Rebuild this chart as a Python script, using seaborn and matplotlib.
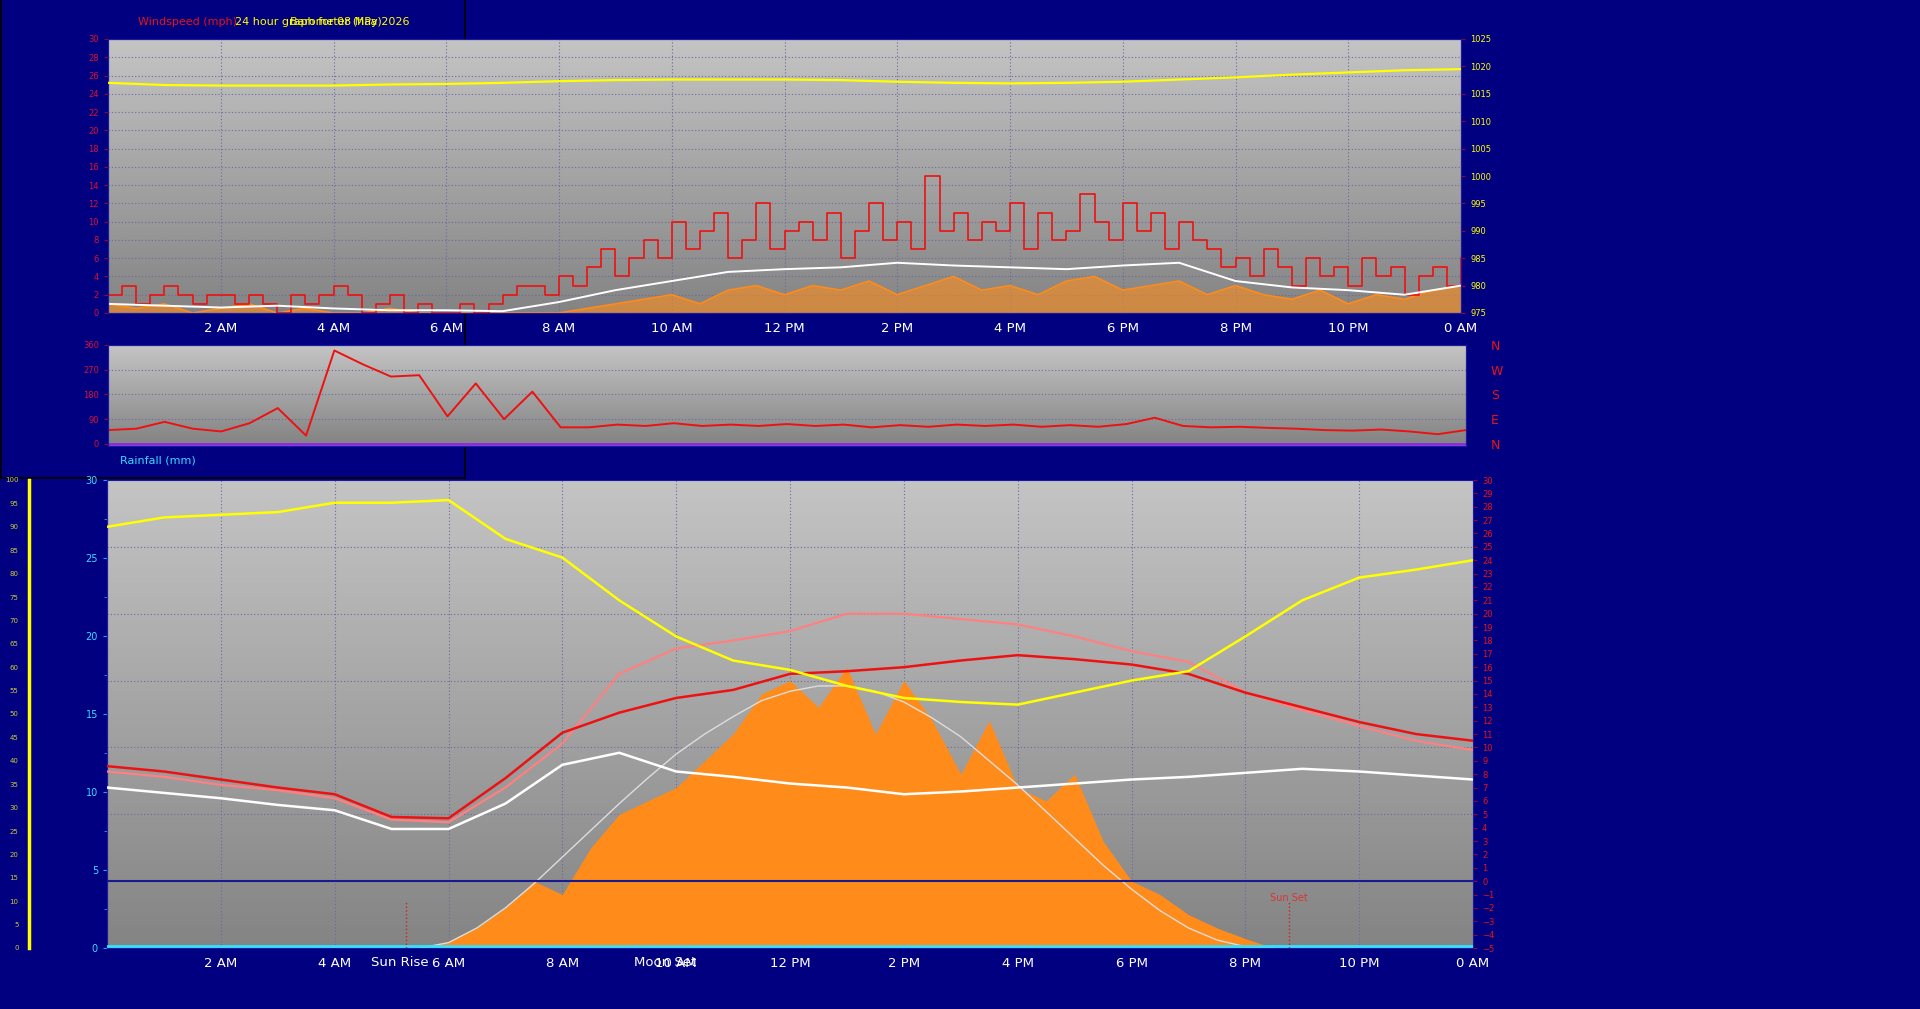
import numpy as np
import matplotlib
matplotlib.use("Agg")
import matplotlib.pyplot as plt
import seaborn as sns

sns.set_style("white")
plt.rcParams['font.family'] = ['DejaVu Sans']

# ---------------- data ----------------
hour_labels = ["2 AM", "4 AM", "6 AM", "8 AM", "10 AM", "12 PM", "2 PM", "4 PM", "6 PM", "8 PM", "10 PM", "0 AM"]
gust = [2,3,1,2,3,2,1,2,2,1,2,1,0,2,1,2,3,2,0,1,2,0,1,0,0,1,0,1,2,3,
        3,2,4,3,5,7,4,6,
        8,6,10,7,9,11,6,8,12,7,9,10,8,11,6,9,12,8,10,7,15,9,11,8,10,9,12,7,11,8,9,13,10,8,12,9,11,7,10,8,
        7,5,6,4,7,5,3,6,4,5,3,6,4,5,2,4,5,3,6]
wind_avg = [1,0.8,0.6,0.8,0.5,0.3,0.3,0.2,1.2,2.5,3.5,4.5,4.8,5,5.5,5.2,5,4.8,5.2,5.5,3.5,2.8,2.5,2,3]
wind_low = [1,0.5,1,0,0.5,1,0,0.5,0,0,0.5,0,0,0,0,0,0,0.5,1,1.5,2,1,2.5,3,2,3,2.5,3.5,2,3,4,2.5,3,2,3.5,4,2.5,3,3.5,2,3,2,1.5,2.5,1,2,1.5,2.5,3]
baro = [1017,1016.6,1016.5,1016.5,1016.5,1016.7,1016.8,1017,1017.3,1017.5,1017.6,1017.6,1017.6,1017.5,1017.2,1017,1016.9,1017,1017.2,1017.6,1018,1018.5,1018.9,1019.3,1019.5]
direction = [50,55,80,55,45,75,130,30,340,290,245,250,100,220,90,190,60,60,70,65,75,65,70,65,72,65,70,60,68,62,70,65,70,62,68,62,72,95,65,60,62,58,55,50,48,52,45,35,50]
temp = [8.6,8.2,7.6,7,6.5,4.8,4.7,7.7,11.1,12.6,13.7,14.3,15.5,15.7,16,16.5,16.9,16.6,16.2,15.5,14.1,13,11.9,11,10.5]
feels = [8.2,7.8,7.2,6.8,6.2,4.6,4.4,7,10.3,15.5,17.4,18,18.7,20,20,19.6,19.2,18.3,17.2,16.4,14.1,12.8,11.6,10.5,9.8]
dew = [7,6.6,6.2,5.7,5.3,3.9,3.9,5.8,8.7,9.6,8.2,7.8,7.3,7,6.5,6.7,7,7.3,7.6,7.8,8.1,8.4,8.2,7.9,7.6]
humid = [26.5,27.2,27.4,27.6,28.3,28.3,28.5,25.6,24.2,21,18.3,16.5,15.8,14.6,13.7,13.4,13.2,14.1,15,15.7,18.3,21,22.7,23.3,24]
solar = [0]*12 + [0.5,1.5,3,5,4,7.5,10,11,12,14,16,19,20,18,21,16,20,17,13,17,12,11,13,8,5,4,2.5,1.5,0.7,0] + [0]*7
theo_t = [5.5,6,6.5,7,7.5,8,8.5,9,9.5,10,10.5,11,11.5,12,12.5,13,13.5,14,14.5,15,15.5,16,16.5,17,17.5,18,18.5,19,19.5,20,20.5]
theo = [0,0.4,1.5,3,4.8,6.8,8.8,10.8,12.7,14.5,16,17.3,18.5,19.2,19.6,19.6,19.2,18.4,17.2,15.8,14,12.2,10.2,8.2,6.2,4.4,2.8,1.5,0.6,0.1,0]
sunrise, sunset = 5.25, 20.77

NAVY = "#000080"
fig = plt.figure(figsize=(19.2, 10.09), dpi=100, facecolor=NAVY)

def px(x0, y0, x1, y1):
    return [x0/1920, 1-y1/1009, (x1-x0)/1920, (y1-y0)/1009]

# frame lines top-left (behind panels)
for xs, ys in (([465, 465], [0, 478]), ([0, 465], [478, 478]), ([1, 1], [0, 478])):
    fig.add_artist(plt.Line2D([x/1920 for x in xs], [1-y/1009 for y in ys], color="black", lw=1.2, zorder=-5))

def bg(ax, lo, hi):
    grad = np.linspace(1, 0, 100).reshape(-1, 1)
    ax.imshow(grad, cmap=matplotlib.colors.LinearSegmentedColormap.from_list("g", ["#848484", "#c4c4c4"]),
              extent=[0, 24, lo, hi], aspect="auto", zorder=0)

def xgrid(ax):
    ax.set_xlim(0, 24)
    ax.set_xticks(np.arange(2, 25, 2))
    ax.set_xticks(np.arange(0, 24.01, 0.5), minor=True)
    for h in np.arange(2, 25, 2):
        ax.axvline(h, color="#6a6aa0", lw=0.8, ls=(0, (1, 2)), zorder=1)
    ax.set_xticklabels(hour_labels, color="white", fontsize=9.5)
    ax.tick_params(axis="x", colors="white", length=3, labelcolor="white")

# ---------------- top panel ----------------
ax1 = fig.add_axes(px(108, 39, 1461, 313))
ax1.set_zorder(2)
bg(ax1, 0, 30)
ax1.set_ylim(0, 30)
for v in range(2, 30, 2):
    ax1.axhline(v, color="#6a6aa0", lw=0.8, ls=(0, (1, 2)), zorder=1)
xgrid(ax1)
t_g = np.linspace(0, 24, len(gust))
t_l = np.linspace(0, 24, len(wind_low))
t_a = np.linspace(0, 24, len(wind_avg))
ax1.fill_between(t_l, 0, wind_low, color="#ff8c1a", alpha=0.6, zorder=2, lw=0)
sns.lineplot(x=t_l, y=wind_low, ax=ax1, color="#ff8c1a", lw=1.2, zorder=3)
sns.lineplot(x=t_g, y=gust, ax=ax1, color="#ee1111", lw=1.2, drawstyle="steps-post", zorder=4)
sns.lineplot(x=t_a, y=wind_avg, ax=ax1, color="white", lw=1.4, zorder=5)
ax1.set_yticks(range(0, 31, 2))
ax1.tick_params(axis="y", colors="#990033", labelcolor="#dd1133", labelsize=6, length=3)
ax1b = ax1.twinx()
ax1b.set_ylim(975, 1025)
sns.lineplot(x=t_a, y=baro, ax=ax1b, color="yellow", lw=1.6, zorder=6)
ax1b.set_yticks(range(975, 1026, 5))
ax1b.tick_params(axis="y", colors="#990033", labelcolor="yellow", labelsize=6, length=3)
for a in (ax1, ax1b):
    a.set_ylabel(""); a.set_xlabel("")
    for s in a.spines.values():
        s.set_color("#1a1aa0")

fig.text(138/1920, 1-22/1009, "Windspeed (mph)", color="#ee1111", fontsize=8, va="center")
fig.text(235/1920, 1-22/1009, "24 hour graph for 08 May 2026", color="yellow", fontsize=8, va="center")
fig.text(290/1920, 1-22/1009, "Barometer (hPa)", color="yellow", fontsize=8, va="center")

# ---------------- middle panel ----------------
ax2 = fig.add_axes(px(108, 345, 1466, 446))
bg(ax2, 0, 360)
ax2.set_ylim(-8, 360)
for v in (90, 180, 270):
    ax2.axhline(v, color="#6a6aa0", lw=0.8, ls=(0, (1, 2)), zorder=1)
ax2.axhline(0, color="#8a2be2", lw=2, zorder=2)
ax2.set_xlim(0, 24)
ax2.set_xticks([])
t_d = np.linspace(0, 24, len(direction))
sns.lineplot(x=t_d, y=direction, ax=ax2, color="#ee1111", lw=1.4, zorder=3)
ax2.set_yticks([0, 90, 180, 270, 360])
ax2.tick_params(axis="y", colors="#990033", labelcolor="#dd1133", labelsize=6, length=3)
ax2.set_xlabel(""); ax2.set_ylabel("")
ax2r = ax2.twinx()
ax2r.set_ylim(-8, 360)
ax2r.set_yticks([0, 90, 180, 270, 360])
ax2r.set_yticklabels(["N", "E", "S", "W", "N"], color="#ee1111", fontsize=9)
ax2r.tick_params(axis="y", length=0, pad=18)
for a in (ax2, ax2r):
    for s in a.spines.values():
        s.set_color("#1a1aa0")
fig.text(120/1920, 1-461/1009, "Rainfall (mm)", color="#33ddff", fontsize=8, va="center")

# ---------------- bottom panel ----------------
ax3 = fig.add_axes(px(107, 480, 1473, 948))
bg(ax3, -5, 30)
ax3.set_ylim(-5, 30)
for v in range(-5, 30, 5):
    ax3.axhline(v, color="#6a6aa0", lw=0.8, ls=(0, (1, 2)), zorder=1)
xgrid(ax3)
t_s = np.linspace(0, 24, len(solar))
ax3.fill_between(t_s, -5, [-5 + s for s in solar], color="#ff8c1a", lw=0, zorder=2)
sns.lineplot(x=theo_t, y=[-5 + s for s in theo], ax=ax3, color="#dddddd", lw=1.0, zorder=3)
ax3.axhline(0, color="#1a1a90", lw=1.5, zorder=3)
ax3.axhline(-4.85, color="#33e0ff", lw=2, zorder=3)
t_h = np.linspace(0, 24, len(temp))
sns.lineplot(x=t_h, y=feels, ax=ax3, color="#ff8080", lw=1.6, zorder=4)
sns.lineplot(x=t_h, y=temp, ax=ax3, color="#ee1111", lw=1.8, zorder=5)
sns.lineplot(x=t_h, y=dew, ax=ax3, color="white", lw=1.8, zorder=5)
sns.lineplot(x=t_h, y=humid, ax=ax3, color="yellow", lw=1.8, zorder=6)
ax3.axvline(sunrise, ymax=0.1, color="#cc2222", lw=1, ls=":", zorder=6)
ax3.axvline(sunset, ymax=0.1, color="#cc2222", lw=1, ls=":", zorder=6)
ax3.text(sunset, -1.5, "Sun Set", color="#dd3333", fontsize=7, ha="center")
ax3.annotate("Sun Rise", (sunrise, -5), xytext=(-4, -6), textcoords="offset points",
             color="white", fontsize=9.5, ha="center", va="top", annotation_clip=False)
ax3.annotate("Moon Set", (10, -5), xytext=(-8, -6), textcoords="offset points",
             color="white", fontsize=9.5, ha="center", va="top", annotation_clip=False)
ax3.set_xlabel(""); ax3.set_ylabel("")
ax3.yaxis.tick_right()
ax3.set_yticks(range(-5, 31, 1))
ax3.tick_params(axis="y", colors="#990033", labelcolor="#ee1111", labelsize=6, length=3)
sec = ax3.secondary_yaxis("left", functions=(lambda r: (r + 5) * 30/35, lambda l: l * 35/30 - 5))
sec.set_yticks(range(0, 31, 5))
sec.set_yticks(np.arange(0, 31, 2.5), minor=True)
sec.tick_params(axis="y", colors="#3399ff", labelcolor="#33ddff", labelsize=7, length=3)
sec.tick_params(axis="y", which="minor", colors="#3399ff", length=2)
for s in ax3.spines.values():
    s.set_color("#1a1aa0")
sec.spines["left"].set_color("#1a1aa0")

# leftmost yellow axis
ax4 = fig.add_axes(px(29, 480, 30, 948))
ax4.set_facecolor("none")
ax4.set_ylim(0, 100)
for k in ("top", "right", "bottom"):
    ax4.spines[k].set_visible(False)
ax4.spines["left"].set_color("yellow")
ax4.spines["left"].set_linewidth(2.5)
ax4.set_xticks([])
ax4.set_yticks(range(0, 101, 5))
ax4.set_yticks(np.arange(0, 101, 1.25), minor=True)
ax4.tick_params(axis="y", colors="#999944", labelcolor="#cccc33", labelsize=5, length=4)
ax4.tick_params(axis="y", which="minor", colors="#999944", length=2)

fig.savefig("out.png", dpi=100, facecolor=NAVY)
